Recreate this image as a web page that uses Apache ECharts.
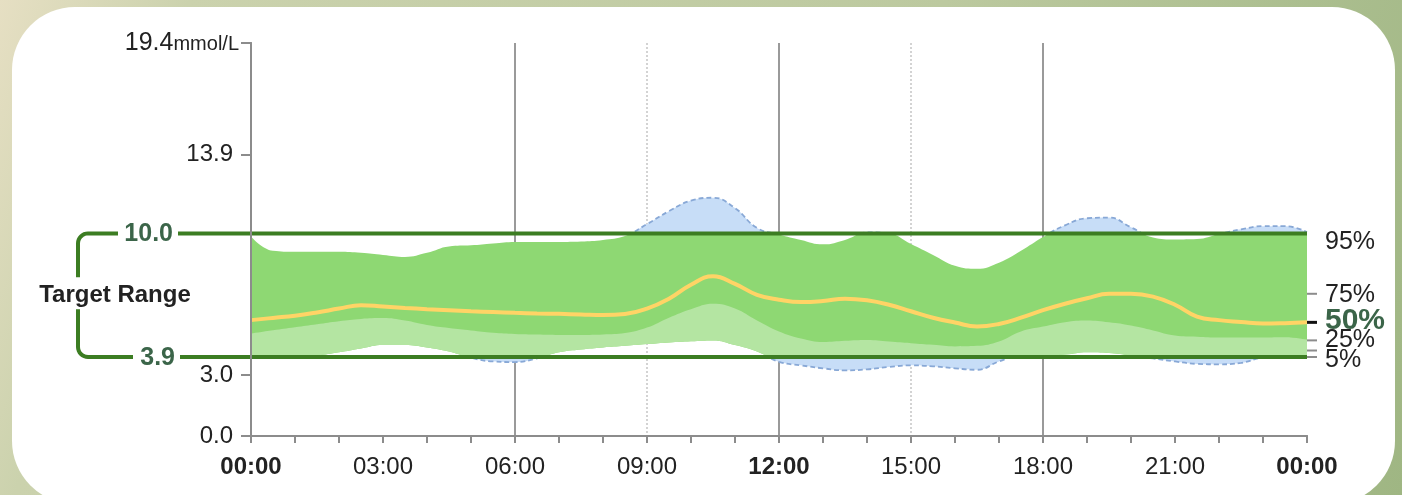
<!DOCTYPE html>
<html>
<head>
<meta charset="utf-8">
<script src="https://cdn.jsdelivr.net/npm/echarts@6/dist/echarts.min.js"></script>
<style>
  html, body { margin: 0; padding: 0; background: #fff; }
  #chart { width: 1402px; height: 495px; }
</style>
</head>
<body>
<div id="chart"></div>
<script>
// Glucose profile over a day, mmol/L, sampled every half hour
const hours = [0, 0.5, 1, 1.5, 2, 2.5, 3, 3.5, 4, 4.5, 5, 5.5, 6, 6.5, 7, 7.5, 8, 8.5, 9, 9.5,
  10, 10.5, 11, 11.5, 12, 12.5, 13, 13.5, 14, 14.5, 15, 15.5, 16, 16.5, 17, 17.5, 18, 18.5, 19, 19.5,
  20, 20.5, 21, 21.5, 22, 22.5, 23, 23.5, 24];

const p95 = [9.85, 9.14, 9.09, 9.09, 9.09, 9.04, 8.94, 8.84, 9.04, 9.36, 9.41, 9.5, 9.58, 9.58, 9.58, 9.6,
  9.68, 9.87, 10.46, 11.1, 11.62, 11.76, 11.25, 10.27, 9.95, 9.68, 9.46, 9.68, 10.05, 10.0, 9.48, 8.94,
  8.4, 8.25, 8.55, 9.14, 9.82, 10.4, 10.75, 10.78, 10.3, 9.8, 9.7, 9.72, 9.97, 10.2, 10.36, 10.36, 10.07];

const p50 = [5.72, 5.83, 5.94, 6.1, 6.29, 6.46, 6.39, 6.32, 6.26, 6.21, 6.16, 6.12, 6.08, 6.05, 6.03, 6.0,
  5.97, 6.02, 6.29, 6.78, 7.47, 7.88, 7.51, 6.97, 6.73, 6.61, 6.66, 6.78, 6.7, 6.48, 6.16, 5.84,
  5.6, 5.4, 5.53, 5.84, 6.21, 6.53, 6.8, 7.02, 7.02, 6.88, 6.48, 5.89, 5.72, 5.63, 5.55, 5.57, 5.61];

const p25 = [5.06, 5.22, 5.37, 5.52, 5.67, 5.78, 5.82, 5.7, 5.48, 5.33, 5.21, 5.1, 5.04, 5.01, 4.99, 4.99,
  5.01, 5.08, 5.35, 5.84, 6.26, 6.53, 6.29, 5.7, 5.16, 4.81, 4.64, 4.7, 4.74, 4.66, 4.58, 4.5,
  4.42, 4.45, 4.67, 5.16, 5.4, 5.62, 5.7, 5.61, 5.45, 5.21, 4.96, 4.9, 4.86, 4.86, 4.86, 4.87, 4.75];

const p5 = [3.93, 3.94, 3.95, 3.98, 4.13, 4.32, 4.49, 4.49, 4.37, 4.17, 3.86, 3.68, 3.65, 3.83, 4.13, 4.27,
  4.37, 4.45, 4.54, 4.62, 4.68, 4.72, 4.49, 4.17, 3.66, 3.49, 3.34, 3.24, 3.29, 3.41, 3.49, 3.44,
  3.34, 3.27, 3.68, 3.98, 3.98, 4.02, 4.14, 4.1, 3.98, 3.83, 3.68, 3.56, 3.54, 3.61, 3.88, 3.95, 3.92];

const targetLow = 3.9;
const targetHigh = 10.0;
const targetTitle = 'Target Range';

const yMax = 19.4;
const yTickValues = [0, 3.0, 13.9, 19.4];
const unitLabel = 'mmol/L';

const timeLabelHours = [0, 3, 6, 9, 12, 15, 18, 21, 24];
const timeLabels = ['00:00', '03:00', '06:00', '09:00', '12:00', '15:00', '18:00', '21:00', '00:00'];
const boldTimes = ['00:00', '12:00'];

const solidGridHours = [6, 12, 18];
const dottedGridHours = [9, 15];

// right-hand percentile key
const pctNames = ['95%', '75%', '50%', '25%', '5%'];
const pctLabelValues = [9.58, 6.97, 5.7, 4.72, 3.73];
const pctTickValues = [7.02, 4.72, 4.22, 3.9];

const FONT = '"Liberation Sans", Arial, Helvetica, sans-serif';
const AXIS_GREY = '#8c8c8c';
const TARGET_GREEN = '#3c7d22';
const LABEL_GREEN = '#3b6549';
const BLUE_FILL = '#c7ddf7';
const BLUE_EDGE = '#88a8d6';
const GREEN_MID = '#8ed873';
const GREEN_LIGHT = '#b4e5a2';
const MEDIAN = '#ffd466';

const GRID = { left: 251, right: 95, top: 43, bottom: 59 };

const pairs = vals => hours.map((h, i) => [h, vals[i]]);
const minus = (a, b) => a.map((v, i) => v - b[i]);

const chart = echarts.init(document.getElementById('chart'), null, { renderer: 'canvas' });

// first pass: main scale only, to find where the target limits sit
chart.setOption({
  animation: false,
  grid: [Object.assign({}, GRID)],
  xAxis: [{ type: 'value', min: 0, max: 24, gridIndex: 0 }],
  yAxis: [{ type: 'value', min: 0, max: yMax, gridIndex: 0 }]
});
const yHiPx = chart.convertToPixel({ yAxisIndex: 0 }, targetHigh);
const yLoPx = chart.convertToPixel({ yAxisIndex: 0 }, targetLow);
const yZeroPx = chart.convertToPixel({ yAxisIndex: 0 }, 0);
const yTopPx = chart.convertToPixel({ yAxisIndex: 0 }, yMax);

// band grids use an evenly spaced category axis over the same half-hour samples
const bandX = g => ({ type: 'category', data: hours, boundaryGap: false, gridIndex: g, show: false });
const hiddenY = (g, lo, hi) => ({ type: 'value', min: lo, max: hi, gridIndex: g, show: false });

function band(name, xi, yi, base, top, fill, edge, z) {
  const lineOff = { width: 0, opacity: 0 };
  const edgeStyle = edge ? { color: edge, width: 1.8, type: [5, 3] } : lineOff;
  return [
    {
      name: name + '-base', type: 'line', xAxisIndex: xi, yAxisIndex: yi, stack: name,
      data: base.slice(), smooth: 0.45, showSymbol: false, symbol: 'none', silent: true,
      lineStyle: edgeStyle, z: z, clip: true
    },
    {
      name: name, type: 'line', xAxisIndex: xi, yAxisIndex: yi, stack: name,
      data: minus(top, base), smooth: 0.45, showSymbol: false, symbol: 'none', silent: true,
      lineStyle: edgeStyle, areaStyle: { color: fill, opacity: 1 }, z: z, clip: true
    }
  ];
}

function vline(color, width, dash) {
  return function (params, api) {
    const h = api.value(0);
    const a = api.coord([h, yMax]);
    const b = api.coord([h, 0]);
    return {
      type: 'line',
      shape: { x1: a[0], y1: a[1], x2: b[0], y2: b[1] },
      style: { stroke: color, lineWidth: width, lineDash: dash }
    };
  };
}

function arcPoints(cx, cy, r, a0, a1) {
  const pts = [];
  for (let k = 0; k <= 8; k++) {
    const a = a0 + (a1 - a0) * k / 8;
    pts.push([cx + r * Math.cos(a), cy + r * Math.sin(a)]);
  }
  return pts;
}

// target range lines, bracket and labels
function renderTarget(params, api) {
  const hi = api.coord([0, targetHigh]);
  const lo = api.coord([0, targetLow]);
  const right = api.coord([24, targetHigh])[0];
  const x0 = hi[0];
  const bx = x0 - 173, r = 10;
  const midY = (hi[1] + lo[1]) / 2;
  const upper = [[x0 - 133, hi[1]]].concat(arcPoints(bx + r, hi[1] + r, r, -Math.PI / 2, -Math.PI)).concat([[bx, midY - 18]]);
  const lower = [[bx, midY + 14]].concat(arcPoints(bx + r, lo[1] - r, r, Math.PI, Math.PI / 2)).concat([[x0 - 118, lo[1]]]);
  const lineStyle = { stroke: TARGET_GREEN, lineWidth: 4, fill: null };
  return {
    type: 'group',
    children: [
      { type: 'line', shape: { x1: x0 - 73, y1: hi[1], x2: right, y2: hi[1] }, style: lineStyle },
      { type: 'line', shape: { x1: x0 - 71, y1: lo[1], x2: right, y2: lo[1] }, style: lineStyle },
      { type: 'polyline', shape: { points: upper }, style: lineStyle },
      { type: 'polyline', shape: { points: lower }, style: lineStyle },
      { type: 'text', style: { text: targetHigh.toFixed(1), x: x0 - 78, y: hi[1] + 1, fill: LABEL_GREEN,
        font: 'bold 25px ' + FONT, textAlign: 'right', verticalAlign: 'middle', textVerticalAlign: 'middle' } },
      { type: 'text', style: { text: targetLow.toFixed(1), x: x0 - 76, y: lo[1] + 1, fill: LABEL_GREEN,
        font: 'bold 25px ' + FONT, textAlign: 'right', verticalAlign: 'middle', textVerticalAlign: 'middle' } },
      { type: 'text', style: { text: targetTitle, x: x0 - 136, y: midY, fill: '#222',
        font: 'bold 24px ' + FONT, textAlign: 'center', verticalAlign: 'middle', textVerticalAlign: 'middle' } }
    ]
  };
}

// percentile key on the right edge
function renderKey(params, api) {
  const xr = api.coord([24, 0])[0];
  const children = [];
  pctTickValues.forEach(v => {
    const p = api.coord([24, v]);
    children.push({ type: 'line', shape: { x1: xr, y1: p[1], x2: xr + 10, y2: p[1] },
      style: { stroke: AXIS_GREY, lineWidth: 2 } });
  });
  const m = api.coord([24, p50[p50.length - 1]]);
  children.push({ type: 'line', shape: { x1: xr, y1: m[1], x2: xr + 10, y2: m[1] },
    style: { stroke: '#111', lineWidth: 3 } });
  pctNames.forEach((name, i) => {
    const p = api.coord([24, pctLabelValues[i]]);
    const isMedian = name === '50%';
    children.push({ type: 'text', style: {
      text: name, x: xr + 18, y: p[1], fill: isMedian ? LABEL_GREEN : '#222',
      font: (isMedian ? 'bold 30px ' : '25px ') + FONT,
      textAlign: 'left', verticalAlign: 'middle', textVerticalAlign: 'middle' } });
  });
  return { type: 'group', children: children };
}

const gridSub = (top, height) => ({ left: GRID.left, right: GRID.right, top: top, height: height });

const option = {
  animation: false,
  textStyle: { fontFamily: FONT },
  graphic: [
    { type: 'rect', z: -20, silent: true, shape: { x: 0, y: 0, width: 1402, height: 495 },
      style: { fill: new echarts.graphic.LinearGradient(0, 0, 1, 1, [
        { offset: 0, color: '#e6dfc3' }, { offset: 0.12, color: '#cbd2ad' },
        { offset: 0.6, color: '#bcc99f' }, { offset: 1, color: '#9fb683' }]) } },
    { type: 'rect', z: -19, silent: true, shape: { x: 12, y: 7, width: 1383, height: 497, r: 63 },
      style: { fill: '#ffffff' } }
  ],
  grid: [
    Object.assign({}, GRID),
    gridSub(yTopPx, yHiPx - yTopPx),
    gridSub(yHiPx, yLoPx - yHiPx),
    gridSub(yLoPx, yZeroPx - yLoPx)
  ],
  xAxis: [
    {
      type: 'value', gridIndex: 0, min: 0, max: 24, interval: 1, position: 'bottom', z: 10,
      axisLine: { show: true, lineStyle: { color: AXIS_GREY, width: 2 } },
      axisTick: { show: true, length: 7, lineStyle: { color: AXIS_GREY, width: 2 } },
      splitLine: { show: false },
      axisLabel: {
        customValues: timeLabelHours, showMinLabel: true, showMaxLabel: true,
        margin: 19, fontSize: 24, color: '#222', fontFamily: FONT,
        formatter: v => {
          const t = timeLabels[timeLabelHours.indexOf(v)];
          return boldTimes.indexOf(t) >= 0 ? '{b|' + t + '}' : t;
        },
        rich: { b: { fontWeight: 'bold', fontSize: 24, color: '#222', fontFamily: FONT } }
      }
    },
    {
      type: 'value', gridIndex: 0, min: 0, max: 24, position: 'top', z: 10,
      axisLine: { show: true, lineStyle: { color: AXIS_GREY, width: 2 } },
      axisTick: { show: false }, axisLabel: { show: false }, splitLine: { show: false }
    },
    bandX(1), bandX(2), bandX(3)
  ],
  yAxis: [
    {
      type: 'value', gridIndex: 0, min: 0, max: yMax, position: 'left', z: 10,
      axisLine: { show: true, lineStyle: { color: AXIS_GREY, width: 2 } },
      axisTick: { show: true, customValues: yTickValues, length: 10, lineStyle: { color: AXIS_GREY, width: 2 } },
      splitLine: { show: false },
      axisLabel: {
        customValues: yTickValues, showMinLabel: true, showMaxLabel: true,
        margin: 12, fontSize: 24, color: '#222', fontFamily: FONT,
        formatter: v => v === yMax
          ? '{n|' + v.toFixed(1) + '}{u|' + unitLabel + '}'
          : '{v|' + v.toFixed(1) + '}',
        rich: {
          v: { fontSize: 24, color: '#222', fontFamily: FONT, padding: [0, 6, 0, 0] },
          n: { fontSize: 25, color: '#222', fontFamily: FONT },
          u: { fontSize: 20, color: '#222', fontFamily: FONT, verticalAlign: 'bottom', padding: [0, 0, 1, 0] }
        }
      }
    },
    {
      type: 'value', gridIndex: 0, min: 0, max: yMax, position: 'right', z: 10,
      axisLine: { show: true, lineStyle: { color: AXIS_GREY, width: 2 } },
      axisTick: { show: false }, axisLabel: { show: false }, splitLine: { show: false }
    },
    hiddenY(1, targetHigh, yMax),
    hiddenY(2, targetLow, targetHigh),
    hiddenY(3, 0, targetLow)
  ],
  series: [
    {
      type: 'custom', name: 'grid-solid', xAxisIndex: 0, yAxisIndex: 0, z: 1, silent: true,
      data: solidGridHours.map(h => [h]), renderItem: vline('#9a9a9a', 2, null), clip: false
    },
    {
      type: 'custom', name: 'grid-dotted', xAxisIndex: 0, yAxisIndex: 0, z: 1, silent: true,
      data: dottedGridHours.map(h => [h]), renderItem: vline('#a8a8a8', 1, [2, 2]), clip: false
    }
  ]
    // 5–95% spread above and below the target range
    .concat(band('above', 2, 2, p5, p95, BLUE_FILL, BLUE_EDGE, 2))
    .concat(band('below', 4, 4, p5, p95, BLUE_FILL, BLUE_EDGE, 2))
    // inside the target range: 5–95% and 5–25% bands
    .concat(band('inRange', 3, 3, p5, p95, GREEN_MID, null, 3))
    .concat(band('inRangeLow', 3, 3, p5, p25, GREEN_LIGHT, null, 3))
    .concat([
      {
        type: 'line', name: 'median', xAxisIndex: 0, yAxisIndex: 0, data: pairs(p50),
        smooth: 0.45, showSymbol: false, symbol: 'none', silent: true, z: 4,
        lineStyle: { color: MEDIAN, width: 4 }
      },
      {
        type: 'custom', name: 'target', xAxisIndex: 0, yAxisIndex: 0, z: 6, silent: true, clip: false,
        data: [[0, targetLow, targetHigh]], renderItem: renderTarget
      },
      {
        type: 'custom', name: 'key', xAxisIndex: 0, yAxisIndex: 0, z: 6, silent: true, clip: false,
        data: [[24, 0]], renderItem: renderKey
      }
    ])
};

chart.setOption(option, true);
</script>
</body>
</html>
